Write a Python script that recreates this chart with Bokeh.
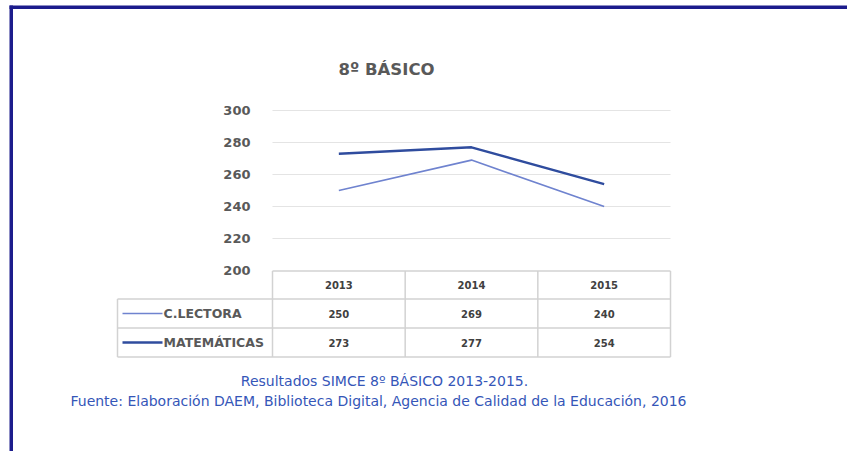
from bokeh.plotting import figure
from bokeh.models import Range1d, LinearAxis, FixedTicker
from bokeh.core.properties import value
from bokeh.embed import file_html
from bokeh.resources import INLINE

# ---------------- data ----------------
YEARS = [2013, 2014, 2015]
YEAR_LABELS = ["2013", "2014", "2015"]
LECTORA = [250, 269, 240]
MATEMATICAS = [273, 277, 254]
SERIES_NAMES = ["C.LECTORA", "MATEMÁTICAS"]
Y_TICKS = [200, 220, 240, 260, 280, 300]
TITLE = "8º BÁSICO"
CAPTION_1 = "Resultados SIMCE 8º BÁSICO 2013-2015."
CAPTION_2 = "Fuente: Elaboración DAEM, Biblioteca Digital, Agencia de Calidad de la Educación, 2016"

# ---------------- layout (picture pixels) ----------------
W, H = 847, 451
PAGE_X0, PAGE_Y0 = 0, 0
PLOT_L, PLOT_R = 272, 670
PLOT_T, PLOT_B = 110, 270
TABLE_L = 117
ROW_EDGES = [270.5, 298.5, 327.5, 356.5]

col_w = (PLOT_R - PLOT_L) / len(YEARS)
y_min, y_max = Y_TICKS[0], Y_TICKS[-1]
px_per_unit = (PLOT_B - PLOT_T) / (y_max - y_min)
x_start = YEARS[0] - 0.5 - (PLOT_L - PAGE_X0) / col_w
x_end = YEARS[-1] + 0.5 + (PAGE_X0 + W - PLOT_R) / col_w
y_start = y_min - (PAGE_Y0 + H - PLOT_B) / px_per_unit
y_end = y_min + (PLOT_B - PAGE_Y0) / px_per_unit

p = figure(width=W, height=H, output_backend="svg", toolbar_location=None,
           x_range=Range1d(x_start, x_end), y_range=Range1d(y_start, y_end),
           x_axis_location=None, y_axis_location=None,
           min_border=0, outline_line_color=None,
           background_fill_color="white", border_fill_color="white")
p.xgrid.grid_line_color = None
p.ygrid.grid_line_color = None
p.extra_x_ranges = {"px": Range1d(PAGE_X0, PAGE_X0 + W)}
p.extra_y_ranges = {"py": Range1d(PAGE_Y0 + H, PAGE_Y0)}

GREY = "#595959"
C_LECT = "#6F83CF"
C_MAT = "#2F4C9E"
GRID = "#E4E4E4"
TABLE_LINE = "#D2D2D2"
NAVY = "#1C1C8C"
FONT = value("DejaVu Sans")

# frame border (left + top)
p.quad(left=[9], right=[12.5], top=[5], bottom=[PAGE_Y0 + H],
       x_range_name="px", y_range_name="py", fill_color=NAVY, line_color=None)
p.quad(left=[9], right=[PAGE_X0 + W], top=[5], bottom=[8.5],
       x_range_name="px", y_range_name="py", fill_color=NAVY, line_color=None)

# gridlines
grid_vals = [t for t in Y_TICKS if t > y_min]
p.segment(x0=[YEARS[0] - 0.5] * len(grid_vals), x1=[YEARS[-1] + 0.5] * len(grid_vals),
          y0=grid_vals, y1=grid_vals, line_color=GRID, line_width=1.2)

# y axis
yax = LinearAxis(ticker=FixedTicker(ticks=Y_TICKS), fixed_location=YEARS[0] - 0.5,
                 axis_line_color=None, major_tick_line_color=None, minor_tick_line_color=None,
                 major_label_standoff=16, major_label_text_font="DejaVu Sans",
                 major_label_text_font_style="bold", major_label_text_font_size="13px",
                 major_label_text_color=GREY)
p.add_layout(yax, "left")

# series lines
p.line(YEARS, LECTORA, line_color=C_LECT, line_width=1.6)
p.line(YEARS, MATEMATICAS, line_color=C_MAT, line_width=2.4)

# data table lines
p.segment(x0=[PLOT_L], x1=[PLOT_R], y0=[ROW_EDGES[0]], y1=[ROW_EDGES[0]],
          x_range_name="px", y_range_name="py", line_color=TABLE_LINE, line_width=1.5)
for ry in ROW_EDGES[1:]:
    p.segment(x0=[TABLE_L], x1=[PLOT_R], y0=[ry], y1=[ry],
              x_range_name="px", y_range_name="py", line_color=TABLE_LINE, line_width=1.5)
col_edges = [y - 0.5 for y in YEARS] + [YEARS[-1] + 0.5]
p.segment(x0=col_edges, x1=col_edges, y0=[ROW_EDGES[0]] * len(col_edges),
          y1=[ROW_EDGES[-1]] * len(col_edges), y_range_name="py",
          line_color=TABLE_LINE, line_width=1.5)
p.segment(x0=[TABLE_L], x1=[TABLE_L], y0=[ROW_EDGES[1]], y1=[ROW_EDGES[-1]],
          x_range_name="px", y_range_name="py", line_color=TABLE_LINE, line_width=1.5)

row_c = [(ROW_EDGES[i] + ROW_EDGES[i + 1]) / 2 for i in range(3)]
# header
p.text(x=YEARS, y=[row_c[0]] * 3, text=YEAR_LABELS, y_range_name="py",
       text_font=FONT, text_font_style="bold", text_font_size="10px",
       text_color="#404040", text_align="center", text_baseline="middle")
# values
for i, vals in enumerate([LECTORA, MATEMATICAS]):
    p.text(x=YEARS, y=[row_c[i + 1]] * 3, text=[str(v) for v in vals], y_range_name="py",
           text_font=FONT, text_font_style="bold", text_font_size="10px",
           text_color="#404040", text_align="center", text_baseline="middle")
# legend keys
for i, (name, col, lw) in enumerate(zip(SERIES_NAMES, [C_LECT, C_MAT], [1.6, 2.4])):
    p.segment(x0=[122], x1=[162], y0=[row_c[i + 1]], y1=[row_c[i + 1]],
              x_range_name="px", y_range_name="py", line_color=col, line_width=lw)
    p.text(x=[163], y=[row_c[i + 1]], text=[name], x_range_name="px", y_range_name="py",
           text_font=FONT, text_font_style="bold", text_font_size="12.5px",
           text_color=GREY, text_align="left", text_baseline="middle")

# title
p.text(x=[386], y=[69], text=[TITLE], x_range_name="px", y_range_name="py",
       text_font=FONT, text_font_style="bold", text_font_size="16.5px",
       text_color=GREY, text_align="center", text_baseline="middle")

# caption
p.text(x=[384], y=[380], text=[CAPTION_1], x_range_name="px", y_range_name="py",
       text_font=FONT, text_font_size="14px",
       text_color="#3556B8", text_align="center", text_baseline="middle")
p.text(x=[378], y=[400], text=[CAPTION_2], x_range_name="px", y_range_name="py",
       text_font=FONT, text_font_size="14px",
       text_color="#3556B8", text_align="center", text_baseline="middle")

open("out.html", "w").write(file_html(p, INLINE))
